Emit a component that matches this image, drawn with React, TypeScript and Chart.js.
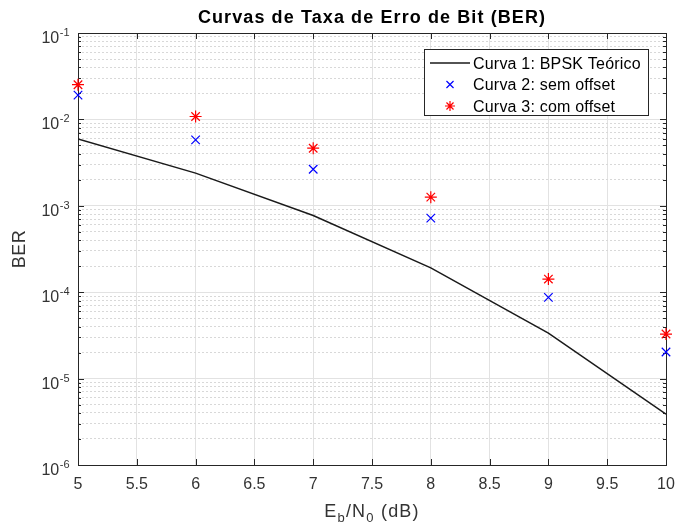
import React, { useEffect, useRef } from "react";
import { Chart, registerables } from "chart.js";

Chart.register(...registerables);

// ---- data ----
const EBN0_DB = [5, 6, 7, 8, 9, 10];
const BER_TEORICO = [5.95e-3, 2.39e-3, 7.73e-4, 1.91e-4, 3.36e-5, 3.87e-6];
const BER_SEM_OFFSET = [0.0191, 5.8e-3, 2.65e-3, 7.2e-4, 8.7e-5, 2.03e-5];
const BER_COM_OFFSET = [0.0252, 0.0108, 4.64e-3, 1.26e-3, 1.42e-4, 3.28e-5];
const X_TICKS = [5, 5.5, 6, 6.5, 7, 7.5, 8, 8.5, 9, 9.5, 10];
const Y_DECADES = [-6, -5, -4, -3, -2, -1];
const SERIES_LABELS = ["Curva 1: BPSK Teórico", "Curva 2: sem offset", "Curva 3: com offset"];
const TITLE = "Curvas de Taxa de Erro de Bit (BER)";
const Y_TITLE = "BER";

const FONT = '"Liberation Sans", Arial, Helvetica, sans-serif';
const AXIS_COLOR = "#262626";
const TEXT_COLOR = "#333333";
const GRID_MAJOR = "#e2e2e2";
const GRID_MINOR = "#d8d8d8";

function isMajor(v: number) {
  const l = Math.log10(v);
  return Math.abs(l - Math.round(l)) < 1e-6;
}

function yTickValues() {
  const vals: number[] = [];
  for (let i = 0; i < Y_DECADES.length; i++) {
    const d = Y_DECADES[i];
    const base = Math.pow(10, d);
    if (i === Y_DECADES.length - 1) {
      vals.push(base);
    } else {
      for (let m = 1; m <= 9; m++) vals.push(+(m * base).toPrecision(6));
    }
  }
  return vals;
}

function setSpacing(ctx: any, px: number) {
  if ("letterSpacing" in ctx) ctx.letterSpacing = px + "px";
}

const decorPlugin = {
  id: "matlabDecor",
  beforeDatasetsDraw(chart: any) {
    const { ctx, chartArea: a, scales } = chart;
    const xs = scales.x;
    const ys = scales.y;
    ctx.save();
    ctx.strokeStyle = AXIS_COLOR;
    ctx.lineWidth = 1;
    // tick marks inward
    ctx.beginPath();
    X_TICKS.forEach((v) => {
      const px = Math.round(xs.getPixelForValue(v)) + 0.5;
      ctx.moveTo(px, a.bottom);
      ctx.lineTo(px, a.bottom - 6);
      ctx.moveTo(px, a.top);
      ctx.lineTo(px, a.top + 6);
    });
    yTickValues().forEach((v) => {
      const py = Math.round(ys.getPixelForValue(v)) + 0.5;
      const len = isMajor(v) ? 6 : 3;
      ctx.moveTo(a.left, py);
      ctx.lineTo(a.left + len, py);
      ctx.moveTo(a.right, py);
      ctx.lineTo(a.right - len, py);
    });
    ctx.stroke();
    // box
    ctx.strokeRect(
      Math.round(a.left) + 0.5,
      Math.round(a.top) + 0.5,
      Math.round(a.right) - Math.round(a.left),
      Math.round(a.bottom) - Math.round(a.top)
    );
    ctx.restore();
  },
  afterDraw(chart: any) {
    const { ctx, chartArea: a, scales } = chart;
    const ys = scales.y;
    const cx = (a.left + a.right) / 2;
    const cy = (a.top + a.bottom) / 2;
    ctx.save();
    // title
    ctx.fillStyle = "#000";
    ctx.font = `bold 18px ${FONT}`;
    setSpacing(ctx, 1.1);
    ctx.textAlign = "center";
    ctx.textBaseline = "alphabetic";
    ctx.fillText(TITLE, cx, 23);
    setSpacing(ctx, 0);

    // y tick labels 10^d
    ctx.fillStyle = TEXT_COLOR;
    Y_DECADES.forEach((d) => {
      const py = ys.getPixelForValue(Math.pow(10, d));
      const sup = "-" + String(Math.abs(d));
      ctx.font = `16px ${FONT}`;
      const wBase = ctx.measureText("10").width;
      ctx.font = `11px ${FONT}`;
      const wSup = ctx.measureText(sup).width;
      const right = a.left - 9;
      const x0 = right - wSup - wBase;
      ctx.textAlign = "left";
      ctx.font = `16px ${FONT}`;
      ctx.fillText("10", x0, py + 10);
      ctx.font = `11px ${FONT}`;
      ctx.fillText(sup, x0 + wBase + 0.5, py + 3);
    });

    // y title
    ctx.save();
    ctx.translate(25, cy);
    ctx.rotate(-Math.PI / 2);
    ctx.font = `18px ${FONT}`;
    setSpacing(ctx, 0.5);
    ctx.textAlign = "center";
    ctx.fillStyle = TEXT_COLOR;
    ctx.fillText(Y_TITLE, 0, 0);
    ctx.restore();

    // x title E_b/N_0 (dB)
    const parts: [string, boolean][] = [["E", false], ["b", true], ["/N", false], ["0", true], [" (dB)", false]];
    const big = `18px ${FONT}`;
    const small = `13px ${FONT}`;
    setSpacing(ctx, 1.2);
    let total = 0;
    parts.forEach(([t, s]) => {
      ctx.font = s ? small : big;
      total += ctx.measureText(t).width;
    });
    let x = cx - total / 2;
    const base = 517;
    ctx.textAlign = "left";
    parts.forEach(([t, s]) => {
      ctx.font = s ? small : big;
      ctx.fillText(t, x, s ? base + 5 : base);
      x += ctx.measureText(t).width;
    });
    setSpacing(ctx, 0);

    // legend
    const lx = 424.5, ly = 49.5, lw = 224, lh = 66;
    ctx.fillStyle = "#ffffff";
    ctx.fillRect(lx, ly, lw, lh);
    ctx.strokeStyle = AXIS_COLOR;
    ctx.lineWidth = 1;
    ctx.strokeRect(lx, ly, lw, lh);
    const rows = [63, 84.5, 106];
    chart.data.datasets.forEach((ds: any, i: number) => {
      const ry = rows[i];
      if (ds.showLine) {
        ctx.strokeStyle = ds.borderColor;
        ctx.lineWidth = ds.borderWidth;
        ctx.beginPath();
        ctx.moveTo(430, ry);
        ctx.lineTo(470, ry);
        ctx.stroke();
      } else {
        ctx.strokeStyle = ds.borderColor;
        ctx.lineWidth = ds.borderWidth;
        const r = ds.pointRadius - 1;
        ctx.beginPath();
        if (ds.pointStyle === "crossRot" || ds.pointStyle === "star") {
          const o = r * Math.SQRT1_2;
          ctx.moveTo(450 - o, ry - o);
          ctx.lineTo(450 + o, ry + o);
          ctx.moveTo(450 + o, ry - o);
          ctx.lineTo(450 - o, ry + o);
        }
        if (ds.pointStyle === "star") {
          ctx.moveTo(450 - r, ry);
          ctx.lineTo(450 + r, ry);
          ctx.moveTo(450, ry - r);
          ctx.lineTo(450, ry + r);
        }
        ctx.stroke();
      }
      ctx.fillStyle = "#000";
      ctx.font = `16px ${FONT}`;
      setSpacing(ctx, 0.2);
      ctx.textAlign = "left";
      ctx.textBaseline = "alphabetic";
      ctx.fillText(ds.label, 473, ry + 5.5);
      setSpacing(ctx, 0);
    });
    ctx.restore();
  },
};

export default function App() {
  const ref = useRef<HTMLCanvasElement | null>(null);

  useEffect(() => {
    document.body.style.margin = "0";
    const canvas = ref.current;
    if (!canvas) return;
    const toPts = (ys: number[]) => EBN0_DB.map((x, i) => ({ x, y: ys[i] }));
    const chart = new Chart(canvas, {
      type: "scatter",
      data: {
        datasets: [
          {
            label: SERIES_LABELS[0],
            data: toPts(BER_TEORICO),
            showLine: true,
            borderColor: "#1a1a1a",
            backgroundColor: "#1a1a1a",
            borderWidth: 1.5,
            pointRadius: 0,
            pointHoverRadius: 0,
          },
          {
            label: SERIES_LABELS[1],
            data: toPts(BER_SEM_OFFSET),
            showLine: false,
            pointStyle: "crossRot",
            pointRadius: 6,
            pointHoverRadius: 6,
            borderColor: "#0000ff",
            backgroundColor: "#0000ff",
            borderWidth: 1.2,
            clip: false,
          },
          {
            label: SERIES_LABELS[2],
            data: toPts(BER_COM_OFFSET),
            showLine: false,
            pointStyle: "star",
            pointRadius: 6,
            pointHoverRadius: 6,
            borderColor: "#ff0000",
            backgroundColor: "#ff0000",
            borderWidth: 1.2,
            clip: false,
          },
        ],
      } as any,
      options: {
        responsive: false,
        animation: false,
        devicePixelRatio: 1,
        events: [],
        layout: { padding: { top: 33, right: 12, left: 0, bottom: 0 } },
        plugins: {
          legend: { display: false },
          title: { display: false },
          tooltip: { enabled: false },
        },
        font: { family: FONT },
        scales: {
          x: {
            type: "linear",
            min: 5,
            max: 10,
            afterBuildTicks: (s: any) => {
              s.ticks = X_TICKS.map((v) => ({ value: v }));
            },
            afterFit: (s: any) => {
              s.height = 61;
              s.paddingLeft = 0;
              s.paddingRight = 0;
            },
            ticks: {
              autoSkip: false,
              maxRotation: 0,
              padding: 10,
              color: TEXT_COLOR,
              font: { family: FONT, size: 16 },
              callback: (v: any) => String(v),
            },
            grid: { color: GRID_MAJOR, drawTicks: false, lineWidth: 1 },
            border: { display: false },
          },
          y: {
            type: "logarithmic",
            min: 1e-6,
            max: 1e-1,
            afterBuildTicks: (s: any) => {
              s.ticks = yTickValues().map((v) => ({ value: v, major: isMajor(v) }));
            },
            afterFit: (s: any) => {
              s.width = 78;
              s.paddingTop = 0;
              s.paddingBottom = 0;
            },
            ticks: { display: false },
            grid: {
              drawTicks: false,
              lineWidth: 1,
              color: (c: any) => (c.tick && isMajor(c.tick.value) ? GRID_MAJOR : GRID_MINOR),
            },
            border: {
              display: false,
              dash: (c: any) => (c.tick && isMajor(c.tick.value) ? [] : [2, 2]),
            },
          },
        },
      } as any,
      plugins: [decorPlugin],
    });
    return () => chart.destroy();
  }, []);

  return (
    <div style={{ width: 678, height: 526, position: "relative", background: "#fff" }}>
      <canvas ref={ref} width={678} height={526} style={{ display: "block" }} />
    </div>
  );
}
